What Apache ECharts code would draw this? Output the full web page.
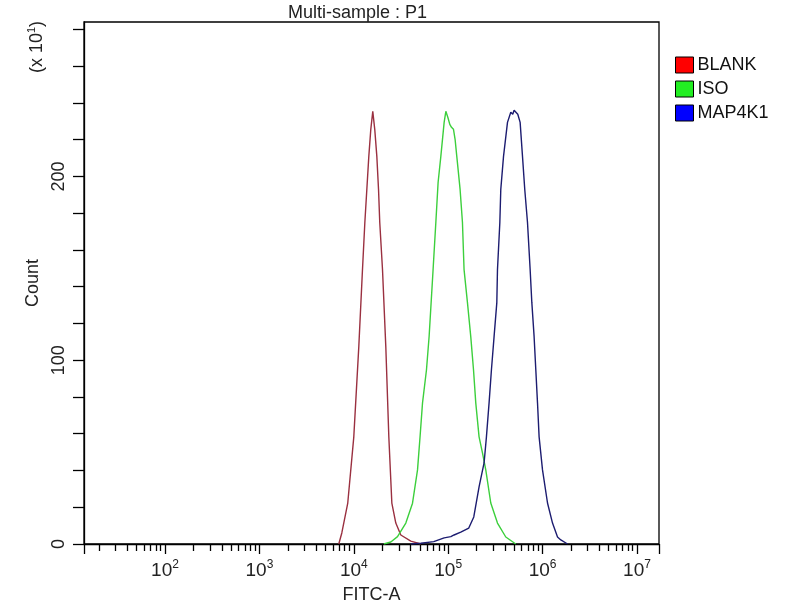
<!DOCTYPE html>
<html>
<head>
<meta charset="utf-8">
<script src="https://cdn.jsdelivr.net/npm/echarts@6/dist/echarts.min.js"></script>
<style>html,body{margin:0;padding:0;background:#fff}#chart{width:800px;height:600px}</style>
</head>
<body>
<div id="chart"></div>
<script>
// FITC-A intensity stored as log10 exponent; Count in units of x10^1
const blankLogFitc = [3.841,3.873,3.936,4.000,4.053,4.092,4.117,4.138,4.159,4.180,4.201,4.222,4.244,4.262,4.275,4.304,4.339,4.371,4.403,4.445,4.498,4.604,4.710];
const blankCount   = [0,6.0,22.3,58.3,107.4,149.3,174.9,192.9,210.9,225.6,235.4,225.6,210.9,192.9,174.9,149.3,107.4,58.3,22.3,11.4,4.9,1.6,0];

const isoLogFitc = [4.318,4.392,4.463,4.551,4.622,4.675,4.702,4.728,4.770,4.798,4.840,4.869,4.893,4.922,4.957,4.975,4.996,5.017,5.035,5.056,5.073,5.091,5.126,5.151,5.168,5.204,5.239,5.268,5.292,5.327,5.363,5.398,5.451,5.522,5.610,5.716];
const isoCount   = [0,1.1,4.0,11.4,22.2,40.3,58.5,76.8,94.8,113.0,149.3,174.9,196.7,210.9,229.4,235.4,232.2,228.3,226.7,225.6,220.2,210.9,192.9,174.9,149.3,131.3,112.8,94.8,76.8,58.3,49.6,40.3,22.3,11.4,3.8,0];

const map4k1LogFitc = [4.604,4.710,4.847,4.957,5.028,5.062,5.133,5.218,5.271,5.327,5.380,5.405,5.433,5.458,5.486,5.515,5.522,5.547,5.557,5.586,5.628,5.663,5.684,5.698,5.716,5.737,5.762,5.787,5.811,5.840,5.868,5.886,5.910,5.928,5.946,5.963,5.999,6.052,6.105,6.158,6.193,6.264];
const map4k1Count   = [0,0.4,1.3,3.3,4.0,4.9,6.5,8.7,14.7,31.1,44.1,58.3,76.8,94.8,112.8,131.3,149.3,174.9,192.9,210.9,229.4,234.9,233.8,236.0,236.5,233.8,229.4,210.9,192.9,174.9,149.3,131.3,112.8,94.8,76.8,58.3,40.3,22.3,11.4,3.8,2.2,0];

const seriesNames = ['BLANK','ISO','MAP4K1'];
const xMajorExponents = [2,3,4,5,6,7];
const yTickValues = [0,20,40,60,80,100,120,140,160,180,200,220,240,260,280];
const yTickLabels = [0,100,200];
const xMin = 1.142, xMax = 7.233, yMax = 284;

const minorTicks = [];
for (let n = 1; n <= 6; n++) {
  for (let k = 2; k <= 9; k++) {
    const v = Math.log10(k * Math.pow(10, n));
    if (v > xMin && v < xMax) minorTicks.push(v);
  }
}
const majorTicks = [xMin].concat(xMajorExponents, [xMax]);

const pair = (xs, ys) => xs.map((x, i) => [x, ys[i]]);
const FONT = 'Liberation Sans, Arial, sans-serif';

const chart = echarts.init(document.getElementById('chart'));
chart.setOption({
  animation: false,
  backgroundColor: '#fff',
  title: {
    text: 'Multi-sample : P1',
    left: 283, top: -1,
    textStyle: { fontFamily: FONT, fontSize: 18, fontWeight: 'normal', color: '#222' }
  },
  legend: {
    orient: 'vertical',
    left: 670, top: 51,
    itemWidth: 18, itemHeight: 16, itemGap: 6,
    icon: 'rect',
    itemStyle: { borderColor: '#000', borderWidth: 1 },
    textStyle: { fontFamily: FONT, fontSize: 18, color: '#111', padding: [0,0,0,-1] },
    data: [
      { name: 'BLANK', itemStyle: { color: '#ff0000' } },
      { name: 'ISO', itemStyle: { color: '#22ee22' } },
      { name: 'MAP4K1', itemStyle: { color: '#0000ff' } }
    ]
  },
  grid: {
    left: 84, right: 141, top: 22, bottom: 56,
    outerBoundsMode: 'none', containLabel: false,
    show: true, borderColor: '#000', borderWidth: 1.3, backgroundColor: 'transparent'
  },
  xAxis: [
    {
      type: 'value', min: xMin, max: xMax, position: 'bottom',
      name: 'FITC-A', nameLocation: 'middle', nameGap: 42, nameMoveOverlap: false,
      nameTextStyle: { fontFamily: FONT, fontSize: 18, color: '#222' },
      axisLine: { show: true, onZero: false, lineStyle: { color: '#000', width: 1.3 } },
      axisTick: { show: true, length: 10, customValues: majorTicks, lineStyle: { color: '#000', width: 1.3 } },
      axisLabel: {
        customValues: xMajorExponents, margin: 15,
        formatter: v => '{b|10}{s|' + Math.round(v) + '}',
        rich: {
          b: { fontFamily: FONT, fontSize: 19, color: '#222' },
          s: { fontFamily: FONT, fontSize: 12, color: '#222', padding: [0,0,12,0] }
        }
      },
      splitLine: { show: false }
    },
    {
      type: 'value', min: xMin, max: xMax, position: 'bottom',
      axisLine: { show: false, onZero: false },
      axisTick: { show: true, length: 7, customValues: minorTicks, lineStyle: { color: '#000', width: 1.3 } },
      axisLabel: { show: false },
      splitLine: { show: false }
    }
  ],
  yAxis: {
    type: 'value', min: 0, max: yMax,
    name: 'Count', nameLocation: 'middle', nameGap: 42, nameRotate: 90,
    nameTextStyle: { fontFamily: FONT, fontSize: 18, color: '#222' },
    axisLine: { show: true, lineStyle: { color: '#000', width: 1.3 } },
    axisTick: { show: true, length: 11, customValues: yTickValues, lineStyle: { color: '#000', width: 1.3 } },
    axisLabel: {
      customValues: yTickLabels, rotate: 90, margin: 16,
      fontFamily: FONT, fontSize: 18, color: '#222'
    },
    splitLine: { show: false }
  },
  graphic: [
    {
      type: 'text', x: 37, y: 47, rotation: Math.PI / 2,
      style: {
        text: '(x 10{s|1})',
        align: 'center', verticalAlign: 'middle',
        font: '18px ' + FONT, fill: '#222',
        rich: { s: { fontFamily: FONT, fontSize: 11, fill: '#222', padding: [0,0,10,0] } }
      }
    }
  ],
  series: [
    { name: seriesNames[0], type: 'line', xAxisIndex: 0, showSymbol: false, symbol: 'none',
      itemStyle: { color: '#ff0000' }, lineStyle: { color: '#9a3040', width: 1.4 },
      data: pair(blankLogFitc, blankCount) },
    { name: seriesNames[1], type: 'line', xAxisIndex: 0, showSymbol: false, symbol: 'none',
      itemStyle: { color: '#22ee22' }, lineStyle: { color: '#3ccf3c', width: 1.4 },
      data: pair(isoLogFitc, isoCount) },
    { name: seriesNames[2], type: 'line', xAxisIndex: 0, showSymbol: false, symbol: 'none',
      itemStyle: { color: '#0000ff' }, lineStyle: { color: '#1c1c70', width: 1.4 },
      data: pair(map4k1LogFitc, map4k1Count) }
  ]
});
</script>
</body>
</html>
